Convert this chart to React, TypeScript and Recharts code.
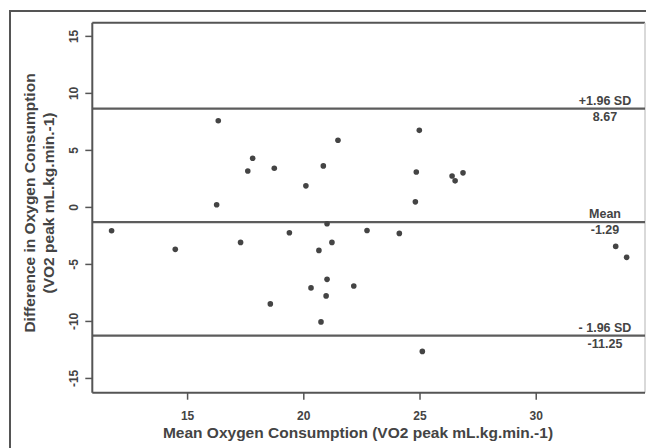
import {
  ScatterChart,
  Scatter,
  XAxis,
  YAxis,
  ReferenceLine,
} from "recharts";

// mean of the two methods (x) and their difference (y)
const meanValues = [
  11.73, 14.47, 16.32, 16.25, 17.8, 17.59, 18.73, 20.09, 20.84, 21.47, 17.28,
  19.38, 21.0, 21.21, 20.65, 21.0, 20.31, 20.96, 18.56, 20.74, 24.97, 24.84,
  26.38, 26.51, 26.85, 24.8, 22.72, 24.11, 22.15, 25.1, 33.42, 33.89,
];
const diffValues = [
  -2.05, -3.68, 7.6, 0.23, 4.31, 3.2, 3.44, 1.89, 3.64, 5.89, -3.07, -2.22,
  -1.43, -3.07, -3.77, -6.31, -7.06, -7.76, -8.46, -10.04, 6.76, 3.11, 2.76,
  2.33, 3.03, 0.49, -2.02, -2.28, -6.89, -12.63, -3.42, -4.38,
];

const xTicks = [15, 20, 25, 30];
const yTicks = [-15, -10, -5, 0, 5, 10, 15];

const limitValues = [8.67, -1.29, -11.25];
const limitNames = ["+1.96 SD", "Mean", "- 1.96 SD"];

const X_MIN = 10.9;
const X_MAX = 34.68;
const Y_MIN = -16.25;
const Y_MAX = 16.2;

const points = meanValues.map((x, i) => ({ x, y: diffValues[i] }));

const FONT = '"Liberation Sans", Arial, sans-serif';
const TEXT = "#444";
const LINE = "#555";

const YTick = ({ y, payload }: any) => (
  <text
    transform={`translate(74, ${y}) rotate(-90)`}
    textAnchor="middle"
    dy="0.36em"
    fontFamily={FONT}
    fontWeight="bold"
    fontSize={12}
    fill={TEXT}
  >
    {payload.value}
  </text>
);

const XTick = ({ x, y, payload }: any) => (
  <text
    x={x}
    y={y}
    textAnchor="middle"
    dy="0.71em"
    fontFamily={FONT}
    fontWeight="bold"
    fontSize={12}
    fill={TEXT}
  >
    {payload.value}
  </text>
);

const limitLabel = (name: string, value: number) => (props: any) => {
  const vb = props.viewBox;
  const cx = vb.x + vb.width - 40;
  return (
    <g fontFamily={FONT} fontWeight="bold" fontSize={12.5} fill={TEXT}>
      <text x={cx} y={vb.y - 4} textAnchor="middle">
        {name}
      </text>
      <text x={cx} y={vb.y + 12} textAnchor="middle">
        {value.toFixed(2)}
      </text>
    </g>
  );
};

const yTitle = () => (
  <g fontFamily={FONT} fontWeight="bold" fontSize={15.5} fill={TEXT}>
    <text transform="translate(29, 203) rotate(-90)" textAnchor="middle" dy="0.36em">
      Difference in Oxygen Consumption
    </text>
    <text transform="translate(48, 203) rotate(-90)" textAnchor="middle" dy="0.36em">
      (VO2 peak mL.kg.min.-1)
    </text>
  </g>
);

const xTitle = () => (
  <text
    x={358}
    y={438}
    textAnchor="middle"
    fontFamily={FONT}
    fontWeight="bold"
    fontSize={15.5}
    fill={TEXT}
  >
    Mean Oxygen Consumption (VO2 peak mL.kg.min.-1)
  </text>
);

export default function App() {
  return (
    <div
      style={{
        position: "absolute",
        left: 0,
        top: 0,
        width: 646,
        height: 448,
        overflow: "hidden",
        background: "#fff",
      }}
    >
      <div
        style={{
          position: "absolute",
          left: 9,
          top: 10,
          width: 800,
          height: 600,
          borderLeft: `2px solid ${LINE}`,
          borderTop: `2px solid ${LINE}`,
        }}
      />
      <div style={{ position: "absolute", left: 0, top: 0 }}>
        <ScatterChart
          width={646}
          height={448}
          margin={{ top: 22.7, right: 1, left: 0, bottom: 0 }}
        >
          <XAxis
            type="number"
            dataKey="x"
            domain={[X_MIN, X_MAX]}
            ticks={xTicks}
            allowDataOverflow
            height={55.3}
            tickSize={7}
            tickMargin={12}
            axisLine={{ stroke: LINE, strokeWidth: 2 }}
            tickLine={{ stroke: LINE, strokeWidth: 1.5 }}
            tick={<XTick />}
            label={{ content: xTitle }}
          />
          <YAxis
            type="number"
            dataKey="y"
            domain={[Y_MIN, Y_MAX]}
            ticks={yTicks}
            allowDataOverflow
            width={92.3}
            tickSize={7}
            axisLine={{ stroke: LINE, strokeWidth: 2 }}
            tickLine={{ stroke: LINE, strokeWidth: 1.5 }}
            tick={<YTick />}
            label={{ content: yTitle }}
          />
          <ReferenceLine y={Y_MAX} stroke={LINE} strokeWidth={2} />
          <ReferenceLine x={X_MAX} stroke="#ccc" strokeWidth={1.5} />
          {limitValues.map((v, i) => (
            <ReferenceLine
              key={limitNames[i]}
              y={v}
              stroke="#5c5c5c"
              strokeWidth={2.2}
              label={{ content: limitLabel(limitNames[i], v) }}
            />
          ))}
          <Scatter
            data={points}
            isAnimationActive={false}
            shape={(p: any) => (
              <circle cx={p.cx} cy={p.cy} r={2.8} fill="#444" />
            )}
          />
        </ScatterChart>
      </div>
    </div>
  );
}
